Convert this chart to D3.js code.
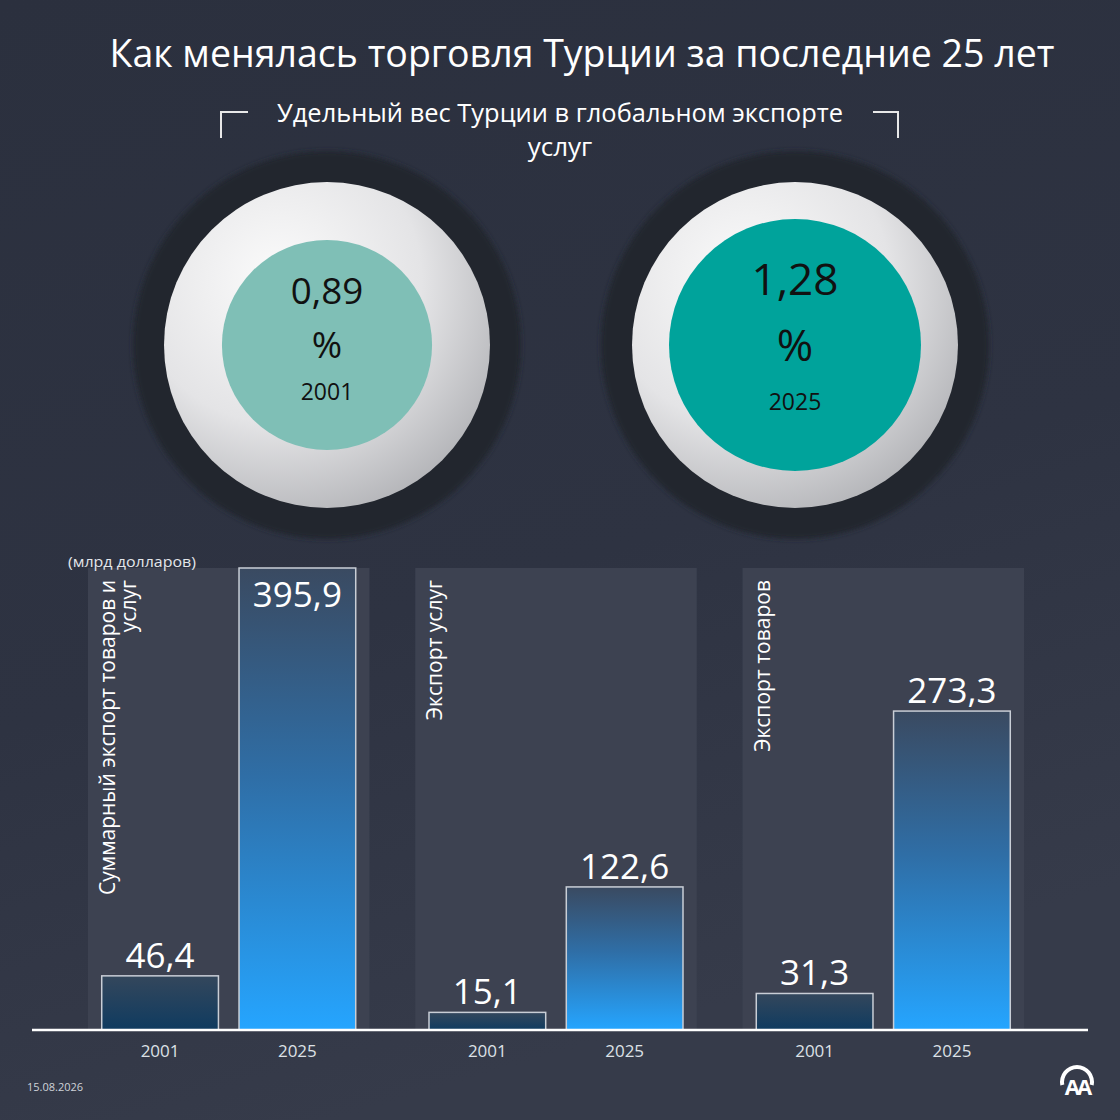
<!DOCTYPE html>
<html>
<head>
<meta charset="utf-8">
<script src="https://cdn.jsdelivr.net/npm/d3@7"></script>
<style>
  body { margin: 0; background: #2c3140; }
  svg { display: block; }
</style>
</head>
<body>
<script>
// data
const panelTitles = [["Суммарный экспорт товаров и", "услуг"], ["Экспорт услуг"], ["Экспорт товаров"]];
const years = ["2001", "2025"];
const values2001 = [46.4, 15.1, 31.3];
const values2025 = [395.9, 122.6, 273.3];
const shareYears = ["2001", "2025"];
const shareValues = [0.89, 1.28];

const W = 1120, H = 1120;
const ru = d3.formatLocale({decimal: ",", thousands: " ", grouping: [3], currency: ["", ""]});
const fmt1 = ru.format(".1f");
const fmt2 = ru.format(".2f");

const svg = d3.select("body").append("svg")
    .attr("width", W)
    .attr("height", H)
    .attr("viewBox", [0, 0, W, H]);

const defs = svg.append("defs");

// background
const bg = defs.append("linearGradient").attr("id", "bg")
    .attr("x1", 0).attr("y1", 0).attr("x2", 0.3).attr("y2", 1);
bg.append("stop").attr("offset", 0).attr("stop-color", "#2b303e");
bg.append("stop").attr("offset", 0.6).attr("stop-color", "#2e3342");
bg.append("stop").attr("offset", 1).attr("stop-color", "#363b4a");
svg.append("rect").attr("width", W).attr("height", H).attr("fill", "url(#bg)");

// title
const font = "'Open Sans', 'Noto Sans', sans-serif";
svg.append("text")
    .attr("x", 582).attr("y", 67)
    .attr("text-anchor", "middle")
    .attr("font-family", font)
    .attr("font-size", 39)
    .attr("fill", "#ffffff")
    .attr("textLength", 945).attr("lengthAdjust", "spacingAndGlyphs")
    .text("Как менялась торговля Турции за последние 25 лет");

svg.append("text")
    .attr("x", 560).attr("y", 122)
    .attr("text-anchor", "middle")
    .attr("font-family", font)
    .attr("font-size", 26)
    .attr("fill", "#ffffff")
    .attr("textLength", 566).attr("lengthAdjust", "spacingAndGlyphs")
    .text("Удельный вес Турции в глобальном экспорте");
svg.append("text")
    .attr("x", 560).attr("y", 156)
    .attr("text-anchor", "middle")
    .attr("font-family", font)
    .attr("font-size", 26)
    .attr("fill", "#ffffff")
    .text("услуг");

// brackets
svg.append("path")
    .attr("d", "M221,138V112H248M873,112H898V138")
    .attr("fill", "none")
    .attr("stroke", "#e8e8e8")
    .attr("stroke-width", 2);

// share circles
const cx = d3.scalePoint().domain(shareYears).range([327, 795]);
const cy = 345;
const rInner = d3.scaleSqrt().domain([0, d3.max(shareValues)]).range([0, 126]);
const innerColor = d3.scaleOrdinal().domain(shareYears).range(["#7fbfb6", "#00a39b"]);

const blur = defs.append("filter").attr("id", "soft").attr("x", -0.2).attr("y", -0.2).attr("width", 1.4).attr("height", 1.4);
blur.append("feGaussianBlur").attr("stdDeviation", 2.5);

const disc = defs.append("radialGradient").attr("id", "disc")
    .attr("cx", 0.35).attr("cy", 0.3).attr("r", 0.8);
disc.append("stop").attr("offset", 0).attr("stop-color", "#fbfbfb");
disc.append("stop").attr("offset", 0.55).attr("stop-color", "#e4e4e6");
disc.append("stop").attr("offset", 1).attr("stop-color", "#aeafb3");

const shares = shareYears.map((y, i) => ({year: y, value: shareValues[i]}));
const sg = svg.selectAll("g.share").data(shares).join("g")
    .attr("class", "share")
    .attr("transform", d => `translate(${cx(d.year)},${cy})`);

sg.append("circle").attr("r", 194).attr("fill", "#22262f").attr("filter", "url(#soft)");
sg.append("circle").attr("r", 163).attr("fill", "url(#disc)");
sg.append("circle").attr("r", d => rInner(d.value)).attr("fill", d => innerColor(d.year));

sg.append("text")
    .attr("text-anchor", "middle")
    .attr("y", d => -0.52 * rInner(d.value) + 0.35 * rInner(d.value) * 0.36)
    .attr("font-family", font)
    .attr("font-size", d => 0.35 * rInner(d.value))
    .attr("fill", "#111")
    .text(d => fmt2(d.value));
sg.append("text")
    .attr("text-anchor", "middle")
    .attr("y", d => 0.35 * rInner(d.value) * 0.36)
    .attr("font-family", font)
    .attr("font-size", d => 0.35 * rInner(d.value))
    .attr("fill", "#111")
    .text("%");
sg.append("text")
    .attr("text-anchor", "middle")
    .attr("y", d => 0.45 * rInner(d.value) + 8)
    .attr("font-family", font)
    .attr("font-size", 23)
    .attr("fill", "#111")
    .text(d => d.year);

// bar panels
const baseY = 1030, topY = 568;
const panels = panelTitles.map((t, i) => ({i, title: t, values: [values2001[i], values2025[i]]}));

const xPanel = d3.scaleBand().domain(d3.range(panels.length)).range([88, 1024]).paddingInner(0.14);
const xYear = d3.scaleBand().domain(years).range([0, xPanel.bandwidth()]).paddingInner(0.15).paddingOuter(0.1);
const y = d3.scaleLinear().domain([0, d3.max(values2025)]).range([baseY, topY]);

const barGrad = [
    ["g2001", [["0", "#34475c"], ["1", "#0f3b60"]]],
    ["g2025", [["0", "#3a4a61"], ["0.45", "#2f6ea6"], ["1", "#25a5ff"]]]
];
barGrad.forEach(([id, stops]) => {
    const g = defs.append("linearGradient").attr("id", id).attr("x1", 0).attr("y1", 0).attr("x2", 0).attr("y2", 1);
    stops.forEach(s => g.append("stop").attr("offset", s[0]).attr("stop-color", s[1]));
});

const pg = svg.selectAll("g.panel").data(panels).join("g")
    .attr("class", "panel")
    .attr("transform", d => `translate(${xPanel(d.i)},0)`);

pg.append("rect")
    .attr("y", topY)
    .attr("width", xPanel.bandwidth())
    .attr("height", baseY - topY)
    .attr("fill", "#3d4251");

const bars = pg.selectAll("g.bar")
    .data(d => d.values.map((v, j) => ({year: years[j], value: v})))
    .join("g").attr("class", "bar");

bars.append("rect")
    .attr("x", d => xYear(d.year))
    .attr("y", d => y(d.value))
    .attr("width", xYear.bandwidth())
    .attr("height", d => baseY - y(d.value))
    .attr("fill", d => `url(#g${d.year})`)
    .attr("stroke", "#c9ced6")
    .attr("stroke-width", 1.5);

bars.append("text")
    .attr("x", d => xYear(d.year) + xYear.bandwidth() / 2)
    .attr("y", d => y(d.value) - 10 < topY + 20 ? y(d.value) + 39 : y(d.value) - 8)
    .attr("text-anchor", "middle")
    .attr("font-family", font)
    .attr("font-size", 35)
    .attr("fill", "#ffffff")
    .text(d => fmt1(d.value));

bars.append("text")
    .attr("x", d => xYear(d.year) + xYear.bandwidth() / 2)
    .attr("y", 1057)
    .attr("text-anchor", "middle")
    .attr("font-family", font)
    .attr("font-size", 17)
    .attr("fill", "#dde1e6")
    .text(d => d.year);

// vertical panel titles
pg.append("text")
    .attr("transform", "rotate(-90)")
    .attr("font-family", font)
    .attr("font-size", 21)
    .attr("fill", "#ffffff")
    .attr("text-anchor", "end")
    .selectAll("tspan")
    .data(d => d.title)
    .join("tspan")
    .attr("x", -580)
    .attr("y", (d, k) => 27 + k * 21)
    .text(d => d);

// baseline
svg.append("line")
    .attr("x1", 32).attr("x2", 1088)
    .attr("y1", baseY).attr("y2", baseY)
    .attr("stroke", "#ffffff")
    .attr("stroke-width", 2.5);

svg.append("text")
    .attr("x", 68).attr("y", 567)
    .attr("font-family", font)
    .attr("font-size", 15)
    .attr("fill", "#e3e6ea")
    .attr("textLength", 128).attr("lengthAdjust", "spacingAndGlyphs")
    .text("(млрд долларов)");

// footer
svg.append("text")
    .attr("x", 27).attr("y", 1091)
    .attr("font-family", font)
    .attr("font-size", 11)
    .attr("fill", "#cfd3d9")
    .text("15.08.2026");

const logo = svg.append("g").attr("transform", "translate(1077,1082)");
logo.append("path")
    .attr("d", d3.arc()({innerRadius: 13, outerRadius: 17, startAngle: -Math.PI / 2 - 0.2, endAngle: Math.PI / 2 + 0.2}))
    .attr("fill", "#ffffff");
logo.append("text")
    .attr("y", 13)
    .attr("text-anchor", "middle")
    .attr("font-family", font)
    .attr("font-weight", 700)
    .attr("font-size", 22)
    .attr("letter-spacing", -3)
    .attr("fill", "#ffffff")
    .text("AA");
</script>
</body>
</html>
